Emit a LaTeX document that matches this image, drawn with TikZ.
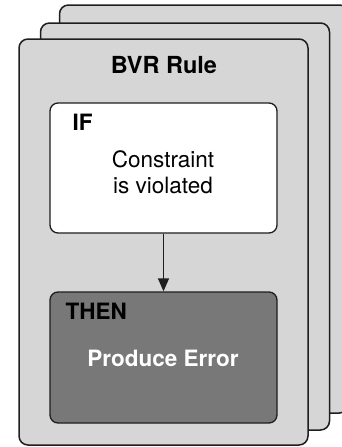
\documentclass[tikz,border=0pt]{standalone}
\usepackage{fontspec}
\setmainfont{TeX Gyre Heros}
\usetikzlibrary{arrows.meta}
\usetikzlibrary{positioning}

\definecolor{cardgray}{HTML}{D6D6D6}
\definecolor{actiongray}{HTML}{787878}
\definecolor{edgegray}{HTML}{1E1E1E}

\tikzset{
  card/.style={draw=edgegray,line width=1.5pt,fill=cardgray,rounded corners=9pt,
    minimum width=289pt,inner sep=0pt},
  rulebox/.style={draw=edgegray,line width=1.3pt,rounded corners=8pt,
    minimum width=227pt,minimum height=130pt,inner sep=0pt},
  bigtext/.style={font=\fontsize{22.5}{26}\selectfont},
}

\begin{document}
\begin{tikzpicture}[x=1pt,y=-1pt,bigtext]
        \useasboundingbox (0,0) rectangle (342,447);
        \clip (0,0) rectangle (342,447);
        % stack of rule cards
        \node[card,minimum height=408pt] (cardthree) at (204,209) {};
        \node[card,minimum height=407pt] (cardtwo) at (185,226.5) {};
        \node[card,minimum height=406pt] (cardone) at (163.5,242) {};
        \node[anchor=base,font=\fontsize{23.5}{26}\selectfont\bfseries] (title) at (164,73) {BVR Rule};

        % condition and action
        \node[rulebox,fill=white] (ifbox) at (163.5,168) {};
        \node[anchor=base west,font=\fontsize{22.5}{26}\selectfont\bfseries] (iflabel) at (69,130) {IF};
        \node[anchor=base,align=center] (condition) at (163,193) {Constraint\\is violated};

        \node[rulebox,fill=actiongray,minimum height=131pt] (thenbox) at (163.5,357.5) {};
        \node[anchor=base west,font=\fontsize{22.5}{26}\selectfont\bfseries] (thenlabel) at (62,319) {THEN};
        \node[anchor=base,text=white,font=\fontsize{22.5}{26}\selectfont\bfseries] (action) at (163,366) {Produce Error};

        \draw[line width=1.3pt,draw=edgegray,-{Triangle[width=11pt,length=13pt]}] (ifbox) -- (thenbox);
    \end{tikzpicture}
\end{document}
